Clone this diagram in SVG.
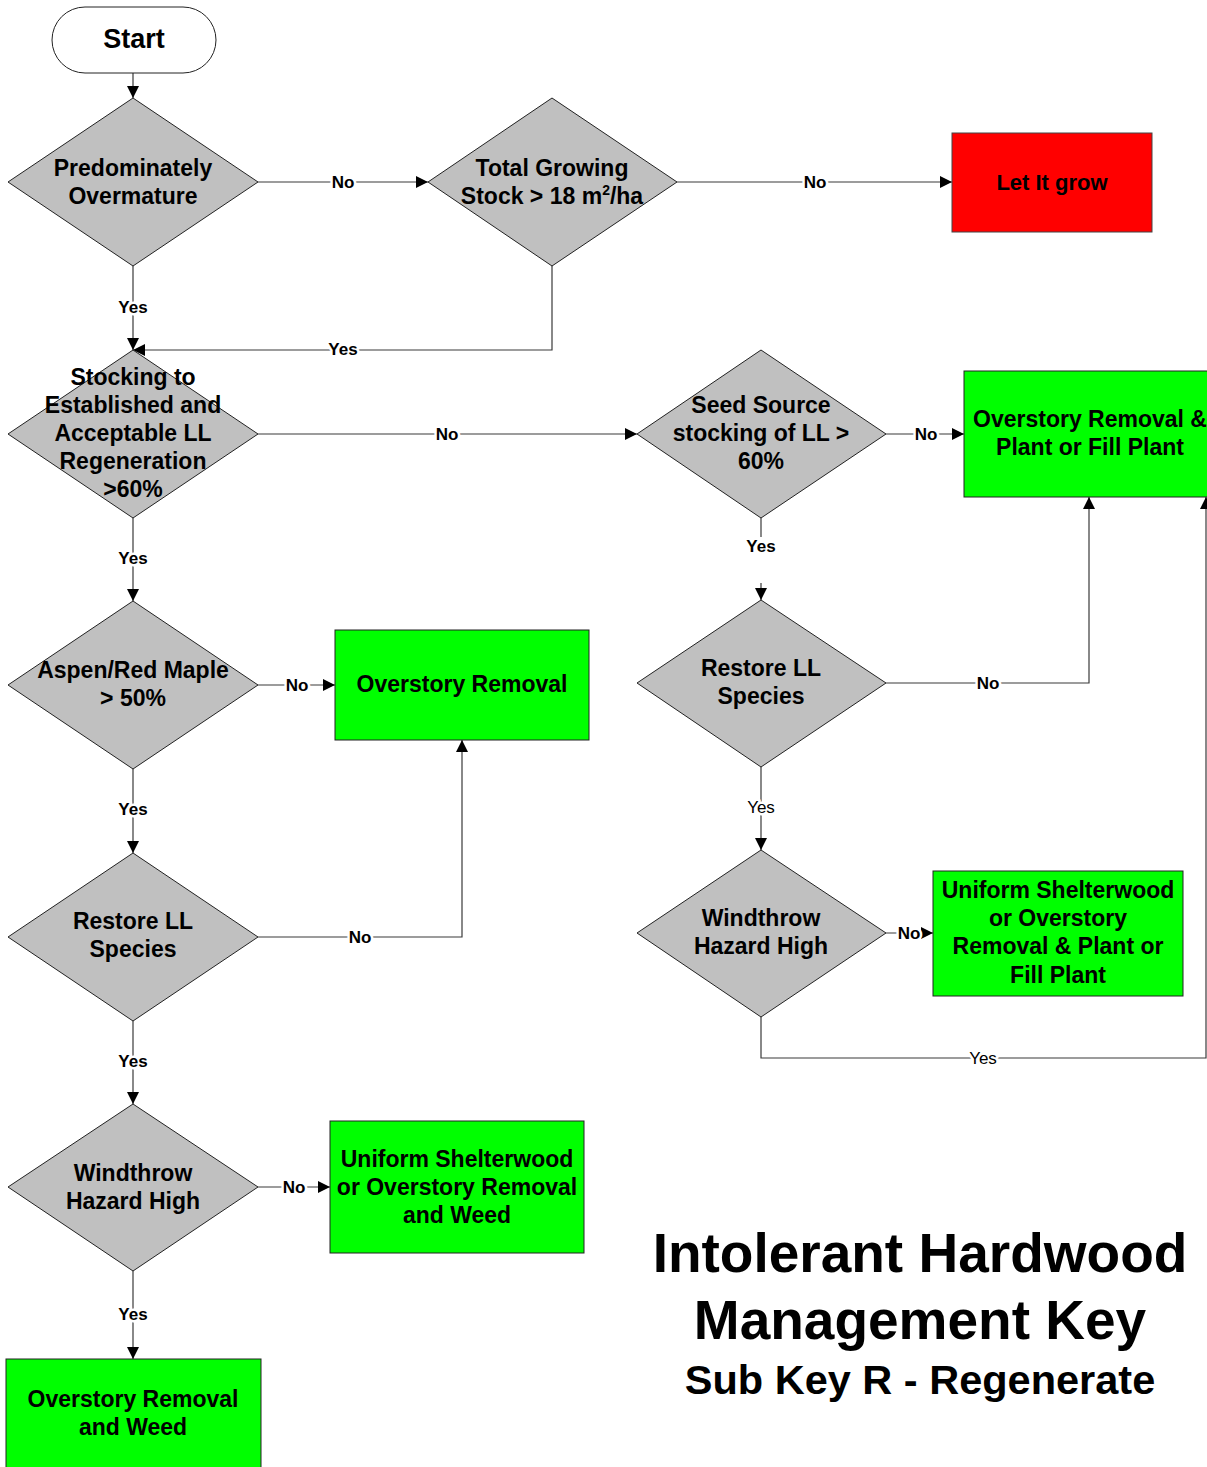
<svg xmlns="http://www.w3.org/2000/svg" width="1207" height="1467" viewBox="0 0 1207 1467">
<style>
text{font-family:"Liberation Sans",Arial,sans-serif;font-weight:bold;fill:#000;text-anchor:middle}
.nt{font-size:23px}
.lb{font-size:17px;stroke:#fff;stroke-width:5px;paint-order:stroke;stroke-linejoin:round}
.lbn{font-weight:normal}
.dia{fill:#c0c0c0;stroke:#222;stroke-width:1}
.grn{fill:#00ff00;stroke:#222;stroke-width:1}
.red{fill:#ff0000;stroke:#444;stroke-width:1}
.cn{fill:none;stroke:#3a3a3a;stroke-width:1.2}
.ttl{font-size:55px}
.sub{font-size:41.5px}
</style>
<defs>
<marker id="ah" viewBox="0 0 10 10" refX="10" refY="5" markerWidth="12" markerHeight="12" markerUnits="userSpaceOnUse" orient="auto">
<path d="M0,0 L10,5 L0,10 z" fill="#000"/>
</marker>
</defs>
<rect width="1207" height="1467" fill="#fff"/>

<g id="connectors">
<path class="cn" d="M133,73 V98" marker-end="url(#ah)"/>
<path class="cn" d="M258,182 H428" marker-end="url(#ah)"/>
<path class="cn" d="M677,182 H952" marker-end="url(#ah)"/>
<path class="cn" d="M133,266 V350" marker-end="url(#ah)"/>
<path class="cn" d="M552,266 V350 H133" marker-end="url(#ah)"/>
<path class="cn" d="M258,434 H637" marker-end="url(#ah)"/>
<path class="cn" d="M886,434 H964" marker-end="url(#ah)"/>
<path class="cn" d="M761,518 V537"/>
<path class="cn" d="M761,583 V600" marker-end="url(#ah)"/>
<path class="cn" d="M133,518 V601" marker-end="url(#ah)"/>
<path class="cn" d="M258,685 H335" marker-end="url(#ah)"/>
<path class="cn" d="M133,769 V853" marker-end="url(#ah)"/>
<path class="cn" d="M258,937 H462 V740" marker-end="url(#ah)"/>
<path class="cn" d="M133,1021 V1104" marker-end="url(#ah)"/>
<path class="cn" d="M258,1187 H330" marker-end="url(#ah)"/>
<path class="cn" d="M133,1271 V1359" marker-end="url(#ah)"/>
<path class="cn" d="M886,683 H1089 V497" marker-end="url(#ah)"/>
<path class="cn" d="M761,767 V850" marker-end="url(#ah)"/>
<path class="cn" d="M886,933 H933" marker-end="url(#ah)"/>
<path class="cn" d="M761,1017 V1058 H1206 V497" marker-end="url(#ah)"/>

<text class="lb" x="343" y="188">No</text>
<text class="lb" x="815" y="188">No</text>
<text class="lb" x="133" y="313">Yes</text>
<text class="lb" x="343" y="355">Yes</text>
<text class="lb" x="447" y="440">No</text>
<text class="lb" x="926" y="440">No</text>
<text class="lb" x="761" y="552">Yes</text>
<text class="lb" x="133" y="564">Yes</text>
<text class="lb" x="297" y="691">No</text>
<text class="lb" x="133" y="815">Yes</text>
<text class="lb" x="360" y="943">No</text>
<text class="lb" x="133" y="1067">Yes</text>
<text class="lb" x="294" y="1193">No</text>
<text class="lb" x="133" y="1320">Yes</text>
<text class="lb" x="988" y="689">No</text>
<text class="lb lbn" x="761" y="813">Yes</text>
<text class="lb" x="909" y="939">No</text>
<text class="lb lbn" x="983" y="1064">Yes</text>
</g>

<g id="start">
<rect x="52" y="7" width="164" height="66" rx="33" ry="33" fill="#fff" stroke="#222" stroke-width="1"/>
<text x="134" y="48" style="font-size:27px">Start</text>
</g>

<g id="d-predominately">
<polygon class="dia" points="133,98 258,182 133,266 8,182"/>
<text class="nt" x="133" y="176">Predominately</text>
<text class="nt" x="133" y="204">Overmature</text>
</g>

<g id="d-growing-stock">
<polygon class="dia" points="552,98 677,182 552,266 428,182"/>
<text class="nt" x="552" y="176">Total Growing</text>
<text class="nt" x="552" y="204">Stock &gt; 18 m<tspan dy="-9" style="font-size:14px">2</tspan><tspan dy="9">/ha</tspan></text>
</g>

<g id="let-it-grow">
<rect class="red" x="952" y="133" width="200" height="99"/>
<text class="nt" x="1052" y="190" style="font-size:22px">Let It grow</text>
</g>

<g id="d-stocking">
<polygon class="dia" points="133,350 258,434 133,518 8,434"/>
<text class="nt" x="133" y="385">Stocking to</text>
<text class="nt" x="133" y="413">Established and</text>
<text class="nt" x="133" y="441">Acceptable LL</text>
<text class="nt" x="133" y="469">Regeneration</text>
<text class="nt" x="133" y="497">&gt;60%</text>
</g>

<g id="d-seed-source">
<polygon class="dia" points="761,350 886,434 761,518 637,434"/>
<text class="nt" x="761" y="413">Seed Source</text>
<text class="nt" x="761" y="441">stocking of LL &gt;</text>
<text class="nt" x="761" y="469">60%</text>
</g>

<g id="overstory-plant">
<rect class="grn" x="964" y="371" width="252" height="126"/>
<text class="nt" x="1090" y="427">Overstory Removal &amp;</text>
<text class="nt" x="1090" y="455">Plant or Fill Plant</text>
</g>

<g id="d-aspen">
<polygon class="dia" points="133,601 258,685 133,769 8,685"/>
<text class="nt" x="133" y="678">Aspen/Red Maple</text>
<text class="nt" x="133" y="706">&gt; 50%</text>
</g>

<g id="overstory-removal">
<rect class="grn" x="335" y="630" width="254" height="110"/>
<text class="nt" x="462" y="692">Overstory Removal</text>
</g>

<g id="d-restore-right">
<polygon class="dia" points="761,600 886,683 761,767 637,683"/>
<text class="nt" x="761" y="676">Restore LL</text>
<text class="nt" x="761" y="704">Species</text>
</g>

<g id="d-windthrow-right">
<polygon class="dia" points="761,850 886,933 761,1017 637,933"/>
<text class="nt" x="761" y="926">Windthrow</text>
<text class="nt" x="761" y="954">Hazard High</text>
</g>

<g id="shelterwood-plant">
<rect class="grn" x="933" y="871" width="250" height="125"/>
<text class="nt" x="1058" y="898">Uniform Shelterwood</text>
<text class="nt" x="1058" y="926">or Overstory</text>
<text class="nt" x="1058" y="954">Removal &amp; Plant or</text>
<text class="nt" x="1058" y="983">Fill Plant</text>
</g>

<g id="d-restore-left">
<polygon class="dia" points="133,853 258,937 133,1021 8,937"/>
<text class="nt" x="133" y="929">Restore LL</text>
<text class="nt" x="133" y="957">Species</text>
</g>

<g id="d-windthrow-left">
<polygon class="dia" points="133,1104 258,1187 133,1271 8,1187"/>
<text class="nt" x="133" y="1181">Windthrow</text>
<text class="nt" x="133" y="1209">Hazard High</text>
</g>

<g id="shelterwood-weed">
<rect class="grn" x="330" y="1121" width="254" height="132"/>
<text class="nt" x="457" y="1167">Uniform Shelterwood</text>
<text class="nt" x="457" y="1195">or Overstory Removal</text>
<text class="nt" x="457" y="1223">and Weed</text>
</g>

<g id="overstory-weed">
<rect class="grn" x="6" y="1359" width="255" height="112"/>
<text class="nt" x="133" y="1407">Overstory Removal</text>
<text class="nt" x="133" y="1435">and Weed</text>
</g>

<g id="title">
<text class="ttl" x="920" y="1272">Intolerant Hardwood</text>
<text class="ttl" x="920" y="1339">Management Key</text>
<text class="sub" x="920" y="1394">Sub Key R - Regenerate</text>
</g>
</svg>
